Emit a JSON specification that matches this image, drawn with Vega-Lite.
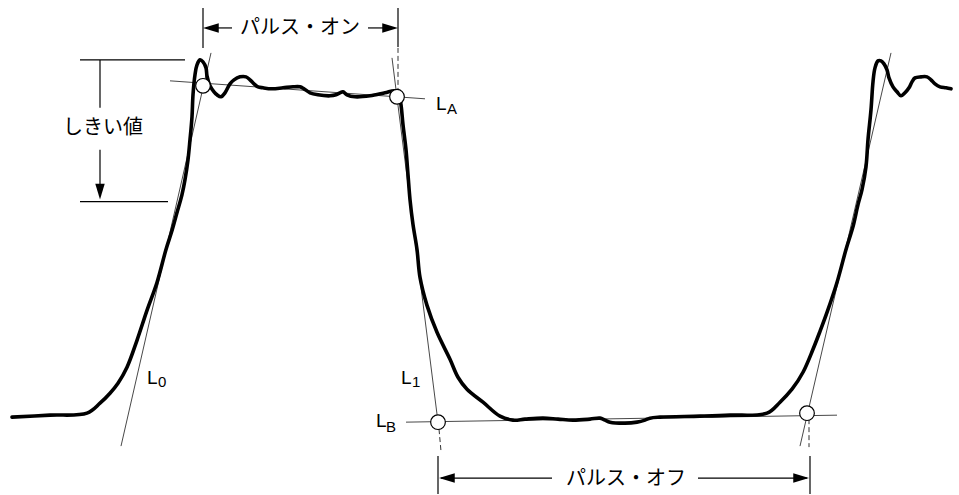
{
  "$schema": "https://vega.github.io/schema/vega-lite/v6.json",
  "width": 959,
  "height": 495,
  "autosize": {"type": "fit", "contains": "padding"},
  "padding": 0,
  "background": "white",
  "config": {"view": {"stroke": null}},
  "datasets": {
    "wave": [
      {"x":12,"y":418},{"x":50,"y":416},{"x":87,"y":414},{"x":100,"y":404},{"x":110,"y":394},{"x":118,"y":384},{"x":127,"y":368},{"x":137,"y":341},{"x":147,"y":311},{"x":157,"y":283},{"x":166,"y":250},{"x":172,"y":231},{"x":177,"y":213},{"x":182,"y":195},{"x":185,"y":180},{"x":188,"y":160},{"x":190,"y":140},{"x":192,"y":117},{"x":193,"y":95},{"x":195,"y":75},{"x":197,"y":65},{"x":200,"y":60},{"x":203,"y":62},{"x":206,"y":68},{"x":207,"y":76},{"x":210,"y":86},{"x":214,"y":92},{"x":217,"y":95},{"x":221,"y":97},{"x":225,"y":93},{"x":230,"y":84},{"x":234,"y":80},{"x":240,"y":77},{"x":246,"y":77},{"x":250,"y":80},{"x":254,"y":84},{"x":258,"y":87},{"x":263,"y":88},{"x":272,"y":89},{"x":283,"y":88},{"x":293,"y":87},{"x":300,"y":87},{"x":304,"y":89},{"x":310,"y":93},{"x":318,"y":95},{"x":330,"y":96},{"x":336,"y":95},{"x":340,"y":93},{"x":343,"y":92},{"x":347,"y":95},{"x":355,"y":97},{"x":370,"y":96},{"x":385,"y":93},{"x":395,"y":91},{"x":399,"y":95},{"x":401,"y":105},{"x":403,"y":125},{"x":406,"y":150},{"x":408,"y":175},{"x":410,"y":200},{"x":413,"y":225},{"x":417,"y":250},{"x":420,"y":278},{"x":427,"y":306},{"x":437,"y":333},{"x":450,"y":360},{"x":458,"y":378},{"x":467,"y":390},{"x":483,"y":403},{"x":500,"y":417},{"x":513,"y":421},{"x":525,"y":420},{"x":543,"y":419},{"x":558,"y":420},{"x":573,"y":421},{"x":590,"y":420},{"x":600,"y":419},{"x":605,"y":421},{"x":610,"y":423},{"x":625,"y":424},{"x":637,"y":423},{"x":645,"y":421},{"x":650,"y":419},{"x":660,"y":418},{"x":700,"y":417},{"x":730,"y":416},{"x":767,"y":414},{"x":780,"y":403},{"x":792,"y":390},{"x":803,"y":373},{"x":813,"y":350},{"x":820,"y":332},{"x":827,"y":313},{"x":837,"y":283},{"x":846,"y":250},{"x":853,"y":227},{"x":858,"y":205},{"x":862,"y":190},{"x":866,"y":167},{"x":868,"y":140},{"x":871,"y":110},{"x":873,"y":82},{"x":875,"y":68},{"x":878,"y":61},{"x":881,"y":61},{"x":884,"y":64},{"x":887,"y":70},{"x":889,"y":78},{"x":893,"y":87},{"x":897,"y":92},{"x":901,"y":96},{"x":905,"y":93},{"x":909,"y":88},{"x":912,"y":82},{"x":915,"y":78},{"x":921,"y":77},{"x":927,"y":77},{"x":931,"y":80},{"x":935,"y":84},{"x":940,"y":87},{"x":946,"y":88},{"x":951,"y":89}
    ],
    "thin": [
      {"x":211,"y":53,"x2":121,"y2":447},
      {"x":392,"y":58,"x2":438,"y2":423},
      {"x":170,"y":81,"x2":425,"y2":99},
      {"x":406,"y":423,"x2":837,"y2":416},
      {"x":891,"y":53,"x2":800,"y2":447}
    ],
    "dim": [
      {"x":80,"y":60,"x2":185,"y2":60},
      {"x":80,"y":202,"x2":168,"y2":202},
      {"x":100,"y":60,"x2":100,"y2":108},
      {"x":100,"y":150,"x2":100,"y2":195},
      {"x":203,"y":8,"x2":203,"y2":48},
      {"x":398,"y":8,"x2":398,"y2":47},
      {"x":206,"y":28,"x2":232,"y2":28},
      {"x":368,"y":28,"x2":395,"y2":28},
      {"x":438,"y":457,"x2":438,"y2":495},
      {"x":810,"y":457,"x2":810,"y2":495},
      {"x":441,"y":479,"x2":552,"y2":479},
      {"x":698,"y":479,"x2":807,"y2":479}
    ],
    "dash": [
      {"x":398,"y":48,"x2":398,"y2":90},
      {"x":439,"y":430,"x2":441,"y2":452},
      {"x":809,"y":420,"x2":809,"y2":448}
    ],
    "circles": [
      {"x":203,"y":86},{"x":397,"y":97},{"x":438,"y":423},{"x":807,"y":414}
    ],
    "arrows": [
      {"x":203,"y":28,"dir":"left"},
      {"x":398,"y":28,"dir":"right"},
      {"x":100,"y":200,"dir":"down"},
      {"x":439,"y":479,"dir":"left"},
      {"x":809,"y":479,"dir":"right"}
    ],
    "jp": [
      {"x":300,"y":28,"t":"パルス・オン"},
      {"x":626,"y":480,"t":"パルス・オフ"},
      {"x":103,"y":128,"t":"しきい値"}
    ],
    "lmain": [
      {"x":436,"y":110,"t":"L"},
      {"x":147,"y":385,"t":"L"},
      {"x":401,"y":385,"t":"L"},
      {"x":376,"y":428,"t":"L"}
    ],
    "lsub": [
      {"x":447,"y":114,"t":"A"},
      {"x":158,"y":388,"t":"0"},
      {"x":412,"y":388,"t":"1"},
      {"x":386,"y":433,"t":"B"}
    ]
  },
  "encoding": {
    "x": {"field": "x", "type": "quantitative", "scale": {"domain": [0, 959], "nice": false, "zero": false}, "axis": null},
    "y": {"field": "y", "type": "quantitative", "scale": {"domain": [0, 495], "nice": false, "zero": false, "reverse": true}, "axis": null}
  },
  "layer": [
    {
      "data": {"name": "thin"},
      "mark": {"type": "rule", "color": "#333333", "strokeWidth": 0.9},
      "encoding": {"x2": {"field": "x2"}, "y2": {"field": "y2"}}
    },
    {
      "data": {"name": "dash"},
      "mark": {"type": "rule", "color": "#333333", "strokeWidth": 1, "strokeDash": [5, 3]},
      "encoding": {"x2": {"field": "x2"}, "y2": {"field": "y2"}}
    },
    {
      "data": {"name": "dim"},
      "mark": {"type": "rule", "color": "black", "strokeWidth": 1.2},
      "encoding": {"x2": {"field": "x2"}, "y2": {"field": "y2"}}
    },
    {
      "data": {"name": "wave"},
      "mark": {"type": "line", "color": "black", "strokeWidth": 3.6, "strokeJoin": "round", "strokeCap": "round", "interpolate": "catmull-rom"}
    },
    {
      "data": {"name": "circles"},
      "mark": {"type": "point", "shape": "circle", "filled": true, "fill": "white", "stroke": "black", "strokeWidth": 1.2, "size": 215, "opacity": 1}
    },
    {
      "data": {"name": "arrows"},
      "mark": {"type": "point", "filled": true, "color": "black", "size": 110, "opacity": 1},
      "encoding": {
        "shape": {"field": "dir", "type": "nominal", "legend": null,
          "scale": {"domain": ["left", "right", "down"], "range": ["M0,0L3,-0.9L3,0.9Z", "M0,0L-3,-0.9L-3,0.9Z", "M0,0L-0.9,-3L0.9,-3Z"]}}
      }
    },
    {
      "data": {"name": "jp"},
      "mark": {"type": "text", "font": "Noto Sans CJK JP", "fontSize": 20, "align": "center", "baseline": "middle", "color": "black"},
      "encoding": {"text": {"field": "t"}}
    },
    {
      "data": {"name": "lmain"},
      "mark": {"type": "text", "font": "Liberation Sans", "fontSize": 19, "align": "left", "baseline": "alphabetic", "color": "black"},
      "encoding": {"text": {"field": "t"}}
    },
    {
      "data": {"name": "lsub"},
      "mark": {"type": "text", "font": "Liberation Sans", "fontSize": 15, "align": "left", "baseline": "alphabetic", "color": "black"},
      "encoding": {"text": {"field": "t"}}
    }
  ]
}
